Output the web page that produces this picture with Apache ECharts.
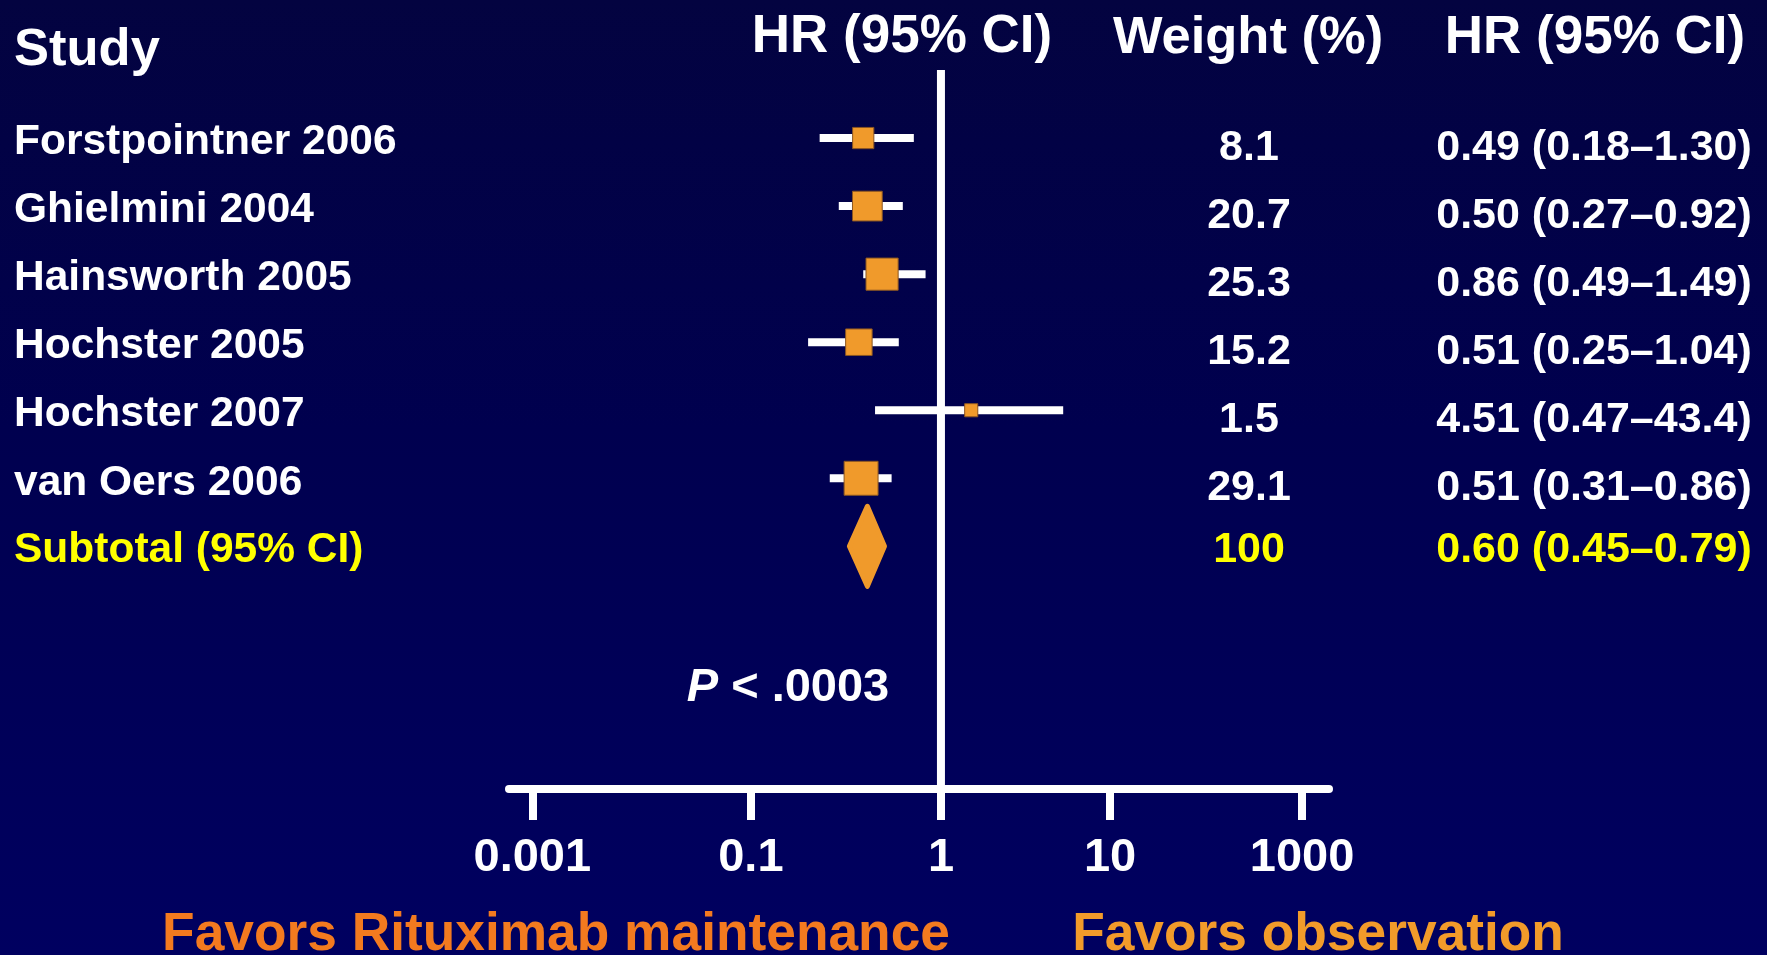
<!DOCTYPE html>
<html>
<head>
<meta charset="utf-8">
<script src="https://cdn.jsdelivr.net/npm/echarts@6/dist/echarts.min.js"></script>
<style>
  html, body { margin: 0; padding: 0; background: #000048; }
  #chart { width: 1767px; height: 955px; }
</style>
</head>
<body>
<div id="chart"></div>
<script>
// ---------------- data ----------------
const studies = ['Forstpointner 2006', 'Ghielmini 2004', 'Hainsworth 2005', 'Hochster 2005', 'Hochster 2007', 'van Oers 2006', 'Subtotal (95% CI)'];
const weights = ['8.1', '20.7', '25.3', '15.2', '1.5', '29.1', '100'];
const hrText = ['0.49 (0.18–1.30)', '0.50 (0.27–0.92)', '0.86 (0.49–1.49)', '0.51 (0.25–1.04)', '4.51 (0.47–43.4)', '0.51 (0.31–0.86)', '0.60 (0.45–0.79)'];

// where the marks sit, read against the printed HR axis
const drawnHR   = [0.39, 0.41, 0.49, 0.37, 1.51, 0.38];
const drawnLow  = [0.23, 0.29, 0.39, 0.20, 0.45, 0.26];
const drawnHigh = [0.72, 0.63, 0.83, 0.60, 5.28, 0.55];
const subtotalHR = 0.41;
const subtotalLow = 0.32;
const subtotalHigh = 0.52;

// printed axis: tick labels, their log10 values, and their spacing on the drawn scale
const tickLabels = ['0.001', '0.1', '1', '10', '1000'];
const tickLog = [-3, -1, 0, 1, 3];
const tickPos = [-2.15, -1, 0, 0.89, 1.9];

// ---------------- layout / style ----------------
const FONT = '"Liberation Sans", Arial, Helvetica, sans-serif';
const X_MIN = -2.2727, X_MAX = 2.0417;
const Y_MIN = -1, Y_MAX = 9.566;
const ORANGE = '#F09A2B';
const YELLOW = '#FFFF00';

function toAxis(v) {
  const lg = Math.log10(v);
  for (let i = 0; i < tickLog.length - 1; i++) {
    if (lg <= tickLog[i + 1] || i === tickLog.length - 2) {
      const t = (lg - tickLog[i]) / (tickLog[i + 1] - tickLog[i]);
      return tickPos[i] + t * (tickPos[i + 1] - tickPos[i]);
    }
  }
}

const rowIdx = studies.map((_, i) => i);
const lastRow = studies.length - 1;

function richLabel(arr) {
  return function (v) {
    const i = Math.round(v);
    return (i === lastRow ? '{y|' : '{w|') + arr[i] + '}';
  };
}

function textAxis(position, margin, align, formatter, size, padWhite, padYellow) {
  return {
    type: 'value', inverse: true, min: Y_MIN, max: Y_MAX, position: position,
    gridIndex: 0,
    axisLine: { show: false, onZero: false },
    axisTick: { show: false },
    splitLine: { show: false },
    axisLabel: {
      customValues: rowIdx,
      margin: margin,
      align: align,
      formatter: formatter,
      color: '#fff', fontSize: size, fontWeight: 'bold', fontFamily: FONT,
      rich: {
        w: { color: '#fff', fontSize: size, fontWeight: 'bold', fontFamily: FONT, padding: [padWhite, 0, 0, 0] },
        y: { color: YELLOW, fontSize: size, fontWeight: 'bold', fontFamily: FONT, padding: [padYellow, 0, 0, 0] }
      }
    }
  };
}

const chart = echarts.init(document.getElementById('chart'), null, { renderer: 'canvas' });

const option = {
  animation: false,
  backgroundColor: {
    type: 'linear', x: 0, y: 0, x2: 0, y2: 1,
    colorStops: [
      { offset: 0, color: '#030340' },
      { offset: 0.45, color: '#00004F' },
      { offset: 1, color: '#000060' }
    ]
  },
  grid: { left: 509, right: 438, top: 70, bottom: 166, containLabel: false, outerBoundsMode: 'none' },
  xAxis: {
    type: 'value', min: X_MIN, max: X_MAX, position: 'bottom',
    axisLine: { show: true, onZero: false, lineStyle: { color: '#fff', width: 8 } },
    axisTick: { show: true, customValues: tickPos, length: 31, lineStyle: { color: '#fff', width: 8 } },
    splitLine: { show: false },
    axisLabel: {
      customValues: tickPos,
      margin: 46,
      color: '#fff', fontSize: 47, fontWeight: 'bold', fontFamily: FONT,
      formatter: function (v) {
        let best = 0;
        for (let i = 0; i < tickPos.length; i++) {
          if (Math.abs(tickPos[i] - v) < Math.abs(tickPos[best] - v)) best = i;
        }
        return tickLabels[best];
      }
    }
  },
  yAxis: [
    textAxis('left', 495, 'left', richLabel(studies), 42.5, 9, 8),
    textAxis('left', -740, 'center', richLabel(weights), 43, 20, 8),
    textAxis('right', 265, 'center', richLabel(hrText), 43, 20, 8)
  ],
  series: [
    {
      type: 'line', silent: true, symbol: 'none', z: 1,
      lineStyle: { color: '#fff', width: 8, cap: 'butt' },
      data: [[toAxis(1), Y_MIN], [toAxis(1), Y_MAX]]
    },
    {
      type: 'custom', silent: true, z: 2,
      encode: { x: [0, 1], y: 2 },
      data: drawnHR.map((_, i) => [toAxis(drawnLow[i]), toAxis(drawnHigh[i]), i]),
      renderItem: function (params, api) {
        const a = api.coord([api.value(0), api.value(2)]);
        const b = api.coord([api.value(1), api.value(2)]);
        return {
          type: 'rect',
          shape: { x: a[0], y: a[1] - 4, width: b[0] - a[0], height: 8 },
          style: { fill: '#fff' }
        };
      }
    },
    {
      type: 'scatter', silent: true, z: 3,
      symbol: 'rect',
      symbolSize: function (d) { return 7 + 5 * Math.sqrt(d[2]); },
      itemStyle: { color: ORANGE, borderColor: '#8A5522', borderWidth: 1, opacity: 1 },
      data: drawnHR.map((v, i) => [toAxis(v), i, parseFloat(weights[i])])
    },
    {
      type: 'custom', silent: true, z: 3,
      encode: { x: [0, 1, 2], y: 3 },
      data: [[toAxis(subtotalHR), toAxis(subtotalLow), toAxis(subtotalHigh), lastRow]],
      renderItem: function (params, api) {
        const c = api.coord([api.value(0), api.value(3)]);
        const l = api.coord([api.value(1), api.value(3)]);
        const r = api.coord([api.value(2), api.value(3)]);
        const h = 40, j = 2.5;
        return {
          type: 'polygon',
          shape: { points: [[l[0] + j, c[1]], [c[0], c[1] - h], [r[0] - j, c[1]], [c[0], c[1] + h]] },
          style: { fill: ORANGE, stroke: ORANGE, lineWidth: 5, lineJoin: 'round' }
        };
      }
    }
  ],
  graphic: [
    { type: 'text', x: 14, y: 51, style: { text: 'Study', fill: '#fff', font: 'bold 52.5px ' + FONT, align: 'left', verticalAlign: 'middle' } },
    { type: 'text', x: 902, y: 37.5, style: { text: 'HR (95% CI)', fill: '#fff', font: 'bold 53px ' + FONT, align: 'center', verticalAlign: 'middle' } },
    { type: 'text', x: 1248, y: 38.5, style: { text: 'Weight (%)', fill: '#fff', font: 'bold 52.5px ' + FONT, align: 'center', verticalAlign: 'middle' } },
    { type: 'text', x: 1595, y: 38.5, style: { text: 'HR (95% CI)', fill: '#fff', font: 'bold 53px ' + FONT, align: 'center', verticalAlign: 'middle' } },
    {
      type: 'text', x: 788, y: 688,
      style: {
        text: '{i|P}{n| < .0003}', align: 'center', verticalAlign: 'middle',
        rich: {
          i: { fill: '#fff', fontStyle: 'italic', fontWeight: 'bold', fontSize: 47, fontFamily: FONT },
          n: { fill: '#fff', fontWeight: 'bold', fontSize: 47, fontFamily: FONT }
        }
      }
    },
    { type: 'text', x: 556, y: 935.5, style: { text: 'Favors Rituximab maintenance', fill: '#F37A1F', font: 'bold 53.3px ' + FONT, align: 'center', verticalAlign: 'middle' } },
    { type: 'text', x: 1318, y: 935.5, style: { text: 'Favors observation', fill: '#F29B2A', font: 'bold 53.3px ' + FONT, align: 'center', verticalAlign: 'middle' } }
  ]
};

chart.setOption(option);
</script>
</body>
</html>
